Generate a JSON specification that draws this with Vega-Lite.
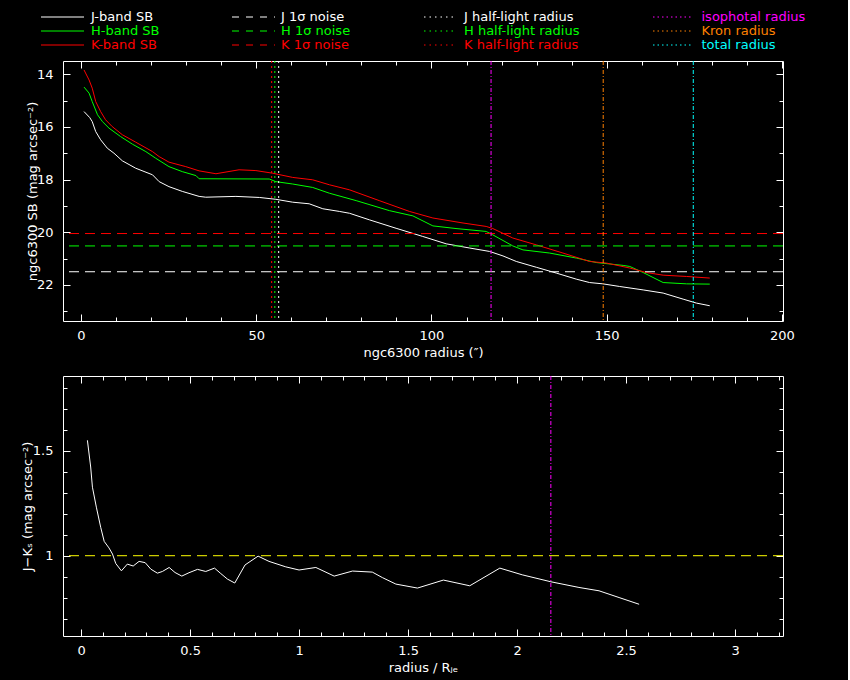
{
  "$schema": "https://vega.github.io/schema/vega-lite/v6.json",
  "background": "#000000",
  "padding": {"left": 21, "top": 10, "right": 42, "bottom": 6},
  "bounds": "flush",
  "spacing": 55,
  "datasets": {
    "sb": [
      {"r": 0.86, "sb": 15.42, "band": "J-band SB"},
      {"r": 2.5, "sb": 15.65, "band": "J-band SB"},
      {"r": 3.2, "sb": 15.8, "band": "J-band SB"},
      {"r": 4.2, "sb": 16.18, "band": "J-band SB"},
      {"r": 5.6, "sb": 16.49, "band": "J-band SB"},
      {"r": 7.5, "sb": 16.81, "band": "J-band SB"},
      {"r": 9.4, "sb": 17.0, "band": "J-band SB"},
      {"r": 11.8, "sb": 17.29, "band": "J-band SB"},
      {"r": 15.6, "sb": 17.57, "band": "J-band SB"},
      {"r": 20.4, "sb": 17.82, "band": "J-band SB"},
      {"r": 22.3, "sb": 18.08, "band": "J-band SB"},
      {"r": 25.1, "sb": 18.27, "band": "J-band SB"},
      {"r": 28.9, "sb": 18.45, "band": "J-band SB"},
      {"r": 33.7, "sb": 18.64, "band": "J-band SB"},
      {"r": 35.6, "sb": 18.67, "band": "J-band SB"},
      {"r": 44.2, "sb": 18.64, "band": "J-band SB"},
      {"r": 50.9, "sb": 18.68, "band": "J-band SB"},
      {"r": 55.6, "sb": 18.75, "band": "J-band SB"},
      {"r": 60.4, "sb": 18.86, "band": "J-band SB"},
      {"r": 65.1, "sb": 18.92, "band": "J-band SB"},
      {"r": 69.0, "sb": 19.11, "band": "J-band SB"},
      {"r": 73.7, "sb": 19.21, "band": "J-band SB"},
      {"r": 76.6, "sb": 19.28, "band": "J-band SB"},
      {"r": 82.3, "sb": 19.53, "band": "J-band SB"},
      {"r": 89.9, "sb": 19.85, "band": "J-band SB"},
      {"r": 97.5, "sb": 20.16, "band": "J-band SB"},
      {"r": 104.2, "sb": 20.44, "band": "J-band SB"},
      {"r": 110.9, "sb": 20.6, "band": "J-band SB"},
      {"r": 116.6, "sb": 20.73, "band": "J-band SB"},
      {"r": 120.4, "sb": 20.9, "band": "J-band SB"},
      {"r": 124.2, "sb": 21.11, "band": "J-band SB"},
      {"r": 129.9, "sb": 21.33, "band": "J-band SB"},
      {"r": 135.6, "sb": 21.55, "band": "J-band SB"},
      {"r": 141.3, "sb": 21.78, "band": "J-band SB"},
      {"r": 145.1, "sb": 21.91, "band": "J-band SB"},
      {"r": 148.9, "sb": 21.96, "band": "J-band SB"},
      {"r": 153.7, "sb": 22.06, "band": "J-band SB"},
      {"r": 160.4, "sb": 22.19, "band": "J-band SB"},
      {"r": 166.1, "sb": 22.31, "band": "J-band SB"},
      {"r": 171.8, "sb": 22.54, "band": "J-band SB"},
      {"r": 175.6, "sb": 22.69, "band": "J-band SB"},
      {"r": 179.4, "sb": 22.79, "band": "J-band SB"},
      {"r": 0.86, "sb": 14.49, "band": "H-band SB"},
      {"r": 2.3, "sb": 14.72, "band": "H-band SB"},
      {"r": 3.2, "sb": 15.04, "band": "H-band SB"},
      {"r": 4.7, "sb": 15.54, "band": "H-band SB"},
      {"r": 6.1, "sb": 15.8, "band": "H-band SB"},
      {"r": 8.0, "sb": 16.05, "band": "H-band SB"},
      {"r": 11.3, "sb": 16.37, "band": "H-band SB"},
      {"r": 14.7, "sb": 16.66, "band": "H-band SB"},
      {"r": 18.5, "sb": 16.94, "band": "H-band SB"},
      {"r": 21.3, "sb": 17.19, "band": "H-band SB"},
      {"r": 25.1, "sb": 17.51, "band": "H-band SB"},
      {"r": 28.9, "sb": 17.7, "band": "H-band SB"},
      {"r": 32.8, "sb": 17.85, "band": "H-band SB"},
      {"r": 33.7, "sb": 17.97, "band": "H-band SB"},
      {"r": 53.7, "sb": 17.98, "band": "H-band SB"},
      {"r": 55.6, "sb": 18.08, "band": "H-band SB"},
      {"r": 60.4, "sb": 18.17, "band": "H-band SB"},
      {"r": 66.1, "sb": 18.3, "band": "H-band SB"},
      {"r": 70.9, "sb": 18.52, "band": "H-band SB"},
      {"r": 78.5, "sb": 18.8, "band": "H-band SB"},
      {"r": 88.0, "sb": 19.18, "band": "H-band SB"},
      {"r": 94.7, "sb": 19.38, "band": "H-band SB"},
      {"r": 100.4, "sb": 19.76, "band": "H-band SB"},
      {"r": 107.0, "sb": 19.86, "band": "H-band SB"},
      {"r": 115.6, "sb": 19.97, "band": "H-band SB"},
      {"r": 117.5, "sb": 20.1, "band": "H-band SB"},
      {"r": 123.2, "sb": 20.52, "band": "H-band SB"},
      {"r": 126.1, "sb": 20.67, "band": "H-band SB"},
      {"r": 133.7, "sb": 20.79, "band": "H-band SB"},
      {"r": 141.3, "sb": 20.98, "band": "H-band SB"},
      {"r": 147.0, "sb": 21.15, "band": "H-band SB"},
      {"r": 154.7, "sb": 21.26, "band": "H-band SB"},
      {"r": 156.6, "sb": 21.3, "band": "H-band SB"},
      {"r": 160.4, "sb": 21.53, "band": "H-band SB"},
      {"r": 166.1, "sb": 21.91, "band": "H-band SB"},
      {"r": 172.8, "sb": 21.96, "band": "H-band SB"},
      {"r": 179.4, "sb": 21.97, "band": "H-band SB"},
      {"r": 0.86, "sb": 13.84, "band": "K-band SB"},
      {"r": 2.3, "sb": 14.22, "band": "K-band SB"},
      {"r": 3.2, "sb": 14.53, "band": "K-band SB"},
      {"r": 4.2, "sb": 15.04, "band": "K-band SB"},
      {"r": 5.6, "sb": 15.42, "band": "K-band SB"},
      {"r": 7.0, "sb": 15.73, "band": "K-band SB"},
      {"r": 8.9, "sb": 15.99, "band": "K-band SB"},
      {"r": 11.8, "sb": 16.3, "band": "K-band SB"},
      {"r": 15.6, "sb": 16.58, "band": "K-band SB"},
      {"r": 20.4, "sb": 16.94, "band": "K-band SB"},
      {"r": 22.3, "sb": 17.13, "band": "K-band SB"},
      {"r": 25.1, "sb": 17.34, "band": "K-band SB"},
      {"r": 29.9, "sb": 17.51, "band": "K-band SB"},
      {"r": 33.7, "sb": 17.67, "band": "K-band SB"},
      {"r": 38.5, "sb": 17.78, "band": "K-band SB"},
      {"r": 45.1, "sb": 17.63, "band": "K-band SB"},
      {"r": 49.9, "sb": 17.66, "band": "K-band SB"},
      {"r": 54.7, "sb": 17.76, "band": "K-band SB"},
      {"r": 60.4, "sb": 17.92, "band": "K-band SB"},
      {"r": 66.1, "sb": 18.01, "band": "K-band SB"},
      {"r": 70.9, "sb": 18.2, "band": "K-band SB"},
      {"r": 76.6, "sb": 18.39, "band": "K-band SB"},
      {"r": 85.1, "sb": 18.8, "band": "K-band SB"},
      {"r": 93.7, "sb": 19.21, "band": "K-band SB"},
      {"r": 100.4, "sb": 19.46, "band": "K-band SB"},
      {"r": 109.0, "sb": 19.65, "band": "K-band SB"},
      {"r": 115.6, "sb": 19.78, "band": "K-band SB"},
      {"r": 117.5, "sb": 19.86, "band": "K-band SB"},
      {"r": 123.2, "sb": 20.22, "band": "K-band SB"},
      {"r": 129.9, "sb": 20.48, "band": "K-band SB"},
      {"r": 137.5, "sb": 20.79, "band": "K-band SB"},
      {"r": 145.1, "sb": 21.11, "band": "K-band SB"},
      {"r": 149.9, "sb": 21.17, "band": "K-band SB"},
      {"r": 156.6, "sb": 21.36, "band": "K-band SB"},
      {"r": 161.3, "sb": 21.53, "band": "K-band SB"},
      {"r": 166.1, "sb": 21.63, "band": "K-band SB"},
      {"r": 172.8, "sb": 21.68, "band": "K-band SB"},
      {"r": 179.4, "sb": 21.74, "band": "K-band SB"}
    ],
    "noise": [
      {"label": "J 1σ noise", "sb": 21.5},
      {"label": "H 1σ noise", "sb": 20.52},
      {"label": "K 1σ noise", "sb": 20.05}
    ],
    "halflight": [
      {"label": "J half-light radius", "r": 56.4},
      {"label": "H half-light radius", "r": 55.3},
      {"label": "K half-light radius", "r": 54.4}
    ],
    "radii": [
      {"label": "isophotal radius", "r": 117.0},
      {"label": "Kron radius", "r": 149.0},
      {"label": "total radius", "r": 174.7}
    ],
    "colour": [
      {"x": 0.029, "jk": 1.549},
      {"x": 0.044, "jk": 1.422},
      {"x": 0.052, "jk": 1.326},
      {"x": 0.07, "jk": 1.231},
      {"x": 0.09, "jk": 1.135},
      {"x": 0.106, "jk": 1.068},
      {"x": 0.128, "jk": 1.037},
      {"x": 0.144, "jk": 1.008},
      {"x": 0.159, "jk": 0.963},
      {"x": 0.185, "jk": 0.928},
      {"x": 0.212, "jk": 0.96},
      {"x": 0.239, "jk": 0.951},
      {"x": 0.266, "jk": 0.973},
      {"x": 0.294, "jk": 0.967},
      {"x": 0.32, "jk": 0.936},
      {"x": 0.35, "jk": 0.917},
      {"x": 0.373, "jk": 0.925},
      {"x": 0.404, "jk": 0.944},
      {"x": 0.431, "jk": 0.92},
      {"x": 0.462, "jk": 0.903},
      {"x": 0.495, "jk": 0.919},
      {"x": 0.534, "jk": 0.935},
      {"x": 0.572, "jk": 0.925},
      {"x": 0.612, "jk": 0.941},
      {"x": 0.641, "jk": 0.915},
      {"x": 0.671, "jk": 0.889},
      {"x": 0.705, "jk": 0.87},
      {"x": 0.752, "jk": 0.956},
      {"x": 0.812, "jk": 0.998},
      {"x": 0.862, "jk": 0.973},
      {"x": 0.939, "jk": 0.947},
      {"x": 1.0, "jk": 0.932},
      {"x": 1.077, "jk": 0.944},
      {"x": 1.161, "jk": 0.903},
      {"x": 1.245, "jk": 0.927},
      {"x": 1.336, "jk": 0.922},
      {"x": 1.382, "jk": 0.896},
      {"x": 1.444, "jk": 0.865},
      {"x": 1.543, "jk": 0.846},
      {"x": 1.662, "jk": 0.884},
      {"x": 1.783, "jk": 0.857},
      {"x": 1.921, "jk": 0.941},
      {"x": 2.024, "jk": 0.909},
      {"x": 2.155, "jk": 0.876},
      {"x": 2.284, "jk": 0.849},
      {"x": 2.376, "jk": 0.833},
      {"x": 2.468, "jk": 0.801},
      {"x": 2.56, "jk": 0.769}
    ],
    "unity": [{"jk": 1.0}],
    "isoscaled": [{"x": 2.155}]
  },
  "vconcat": [
    {
      "width": 720,
      "height": 260,
      "layer": [
        {
          "data": {"name": "sb"},
          "mark": {"type": "line", "strokeWidth": 1},
          "encoding": {
            "x": {
              "field": "r",
              "type": "quantitative",
              "scale": {"domain": [-5.14, 200.3], "nice": false, "zero": false},
              "axis": {
                "orient": "bottom",
                "values": [0, 10, 20, 30, 40, 50, 60, 70, 80, 90, 100, 110, 120, 130, 140, 150, 160, 170, 180, 190, 200],
                "labelExpr": "datum.value % 50 === 0 ? datum.label : ''",
                "tickSize": {"condition": {"test": "datum.value % 50 === 0", "value": -7}, "value": -4},
                "labelPadding": 15,
                "title": "ngc6300 radius (″)",
                "titleY": 31,
                "titleBaseline": "middle"
              }
            },
            "y": {
              "field": "sb",
              "type": "quantitative",
              "scale": {"domain": [13.5, 23.37], "reverse": true, "nice": false, "zero": false},
              "axis": {
                "orient": "left",
                "values": [14, 15, 16, 17, 18, 19, 20, 21, 22, 23],
                "labelExpr": "datum.value % 2 === 0 ? datum.label : ''",
                "tickSize": {"condition": {"test": "datum.value % 2 === 0", "value": -7}, "value": -4},
                "labelPadding": 17,
                "title": "ngc6300 SB (mag arcsec⁻²)",
                "titleX": -31,
                "titleBaseline": "middle"
              }
            },
            "color": {
              "field": "band",
              "type": "nominal",
              "scale": {"domain": ["J-band SB", "H-band SB", "K-band SB"], "range": ["#ffffff", "#00ff00", "#ff0000"]},
              "legend": {
                "legendX": -22.5,
                "legendY": -50.75,
                "symbolSize": 1849,
                "labelOffset": 6.5,
                "encode": {
                  "labels": {"update": {"fill": {"signal": "slice(datum.value, 0, 1) === 'J' ? '#ffffff' : slice(datum.value, 0, 1) === 'H' ? '#00ff00' : '#ff0000'"}}}
                }
              }
            }
          }
        },
        {
          "data": {"name": "noise"},
          "mark": {"type": "rule", "strokeWidth": 1, "strokeDash": [10, 6]},
          "encoding": {
            "y": {
              "field": "sb",
              "type": "quantitative",
              "scale": {"domain": [13.5, 23.37], "reverse": true, "nice": false, "zero": false},
              "axis": {
                "orient": "right",
                "values": [14, 15, 16, 17, 18, 19, 20, 21, 22, 23],
                "labels": false,
                "tickSize": {"condition": {"test": "datum.value % 2 === 0", "value": -7}, "value": -4},
                "title": null
              }
            },
            "color": {
              "field": "label",
              "type": "nominal",
              "scale": {"domain": ["J 1σ noise", "H 1σ noise", "K 1σ noise"], "range": ["#ffffff", "#00ff00", "#ff0000"]},
              "legend": {
                "legendX": 168.5,
                "legendY": -50.75,
                "symbolSize": 1849,
                "symbolDash": [7, 7],
                "labelOffset": 5.5,
                "encode": {
                  "symbols": {"update": {"strokeDash": {"value": [7, 7]}}},
                  "labels": {"update": {"fill": {"signal": "slice(datum.value, 0, 1) === 'J' ? '#ffffff' : slice(datum.value, 0, 1) === 'H' ? '#00ff00' : '#ff0000'"}}}
                }
              }
            }
          }
        },
        {
          "data": {"name": "halflight"},
          "mark": {"type": "rule", "strokeWidth": 1, "strokeDash": [2, 3]},
          "encoding": {
            "x": {
              "field": "r",
              "type": "quantitative",
              "scale": {"domain": [-5.14, 200.3], "nice": false, "zero": false},
              "axis": {
                "orient": "top",
                "values": [0, 10, 20, 30, 40, 50, 60, 70, 80, 90, 100, 110, 120, 130, 140, 150, 160, 170, 180, 190, 200],
                "labels": false,
                "tickSize": {"condition": {"test": "datum.value % 50 === 0", "value": -7}, "value": -4},
                "title": null
              }
            },
            "color": {
              "field": "label",
              "type": "nominal",
              "scale": {"domain": ["J half-light radius", "H half-light radius", "K half-light radius"], "range": ["#ffffff", "#00ff00", "#ff0000"]},
              "legend": {
                "legendX": 360.5,
                "legendY": -50.75,
                "symbolSize": 1089,
                "symbolDash": [1.5, 4],
                "labelOffset": 6.5,
                "encode": {
                  "symbols": {"update": {"strokeDash": {"value": [1.5, 4]}}},
                  "labels": {"update": {"fill": {"signal": "slice(datum.value, 0, 1) === 'J' ? '#ffffff' : slice(datum.value, 0, 1) === 'H' ? '#00ff00' : '#ff0000'"}}}
                }
              }
            }
          }
        },
        {
          "data": {"name": "radii"},
          "mark": {"type": "rule", "strokeWidth": 1, "strokeDash": [4, 2, 1, 2]},
          "encoding": {
            "x": {
              "field": "r",
              "type": "quantitative",
              "scale": {"domain": [-5.14, 200.3], "nice": false, "zero": false},
              "axis": null
            },
            "color": {
              "field": "label",
              "type": "nominal",
              "scale": {"domain": ["isophotal radius", "Kron radius", "total radius"], "range": ["#ff00ff", "#ff8000", "#00ffff"]},
              "legend": {
                "legendX": 589.5,
                "legendY": -50.75,
                "symbolSize": 1600,
                "symbolDash": [1.5, 3],
                "labelOffset": 8,
                "encode": {
                  "symbols": {"update": {"strokeDash": {"value": [1.5, 3]}}},
                  "labels": {"update": {"fill": {"signal": "datum.value === 'isophotal radius' ? '#ff00ff' : datum.value === 'Kron radius' ? '#ff8000' : '#00ffff'"}}}
                }
              }
            }
          }
        }
      ],
      "resolve": {
        "scale": {"color": "independent"},
        "axis": {"x": "independent", "y": "independent"}
      }
    },
    {
      "width": 720,
      "height": 260,
      "layer": [
        {
          "data": {"name": "colour"},
          "mark": {"type": "line", "strokeWidth": 1, "color": "#ffffff"},
          "encoding": {
            "x": {
              "field": "x",
              "type": "quantitative",
              "scale": {"domain": [-0.083, 3.22], "nice": false, "zero": false},
              "axis": {
                "orient": "bottom",
                "values": [0, 0.1, 0.2, 0.3, 0.4, 0.5, 0.6, 0.7, 0.8, 0.9, 1, 1.1, 1.2, 1.3, 1.4, 1.5, 1.6, 1.7, 1.8, 1.9, 2, 2.1, 2.2, 2.3, 2.4, 2.5, 2.6, 2.7, 2.8, 2.9, 3, 3.1, 3.2],
                "format": "~g",
                "labelExpr": "abs(datum.value * 2 - round(datum.value * 2)) < 0.001 ? datum.label : ''",
                "tickSize": {"condition": {"test": "abs(datum.value * 2 - round(datum.value * 2)) < 0.001", "value": -7}, "value": -4},
                "labelPadding": 15,
                "title": "radius / Rⱼₑ",
                "titleY": 31,
                "titleBaseline": "middle"
              }
            },
            "y": {
              "field": "jk",
              "type": "quantitative",
              "scale": {"domain": [0.618, 1.855], "nice": false, "zero": false},
              "axis": {
                "orient": "left",
                "values": [0.7, 0.8, 0.9, 1, 1.1, 1.2, 1.3, 1.4, 1.5, 1.6, 1.7, 1.8],
                "format": "~g",
                "labelExpr": "abs(datum.value * 2 - round(datum.value * 2)) < 0.001 ? datum.label : ''",
                "tickSize": {"condition": {"test": "abs(datum.value * 2 - round(datum.value * 2)) < 0.001", "value": -7}, "value": -4},
                "labelPadding": 17,
                "title": "J−Kₛ (mag arcsec⁻²)",
                "titleX": -36,
                "titleBaseline": "middle"
              }
            }
          }
        },
        {
          "data": {"name": "unity"},
          "mark": {"type": "rule", "strokeWidth": 1, "strokeDash": [10, 6], "color": "#ffff00"},
          "encoding": {
            "y": {
              "field": "jk",
              "type": "quantitative",
              "scale": {"domain": [0.618, 1.855], "nice": false, "zero": false},
              "axis": {
                "orient": "right",
                "values": [0.7, 0.8, 0.9, 1, 1.1, 1.2, 1.3, 1.4, 1.5, 1.6, 1.7, 1.8],
                "labels": false,
                "tickSize": {"condition": {"test": "abs(datum.value * 2 - round(datum.value * 2)) < 0.001", "value": -7}, "value": -4},
                "title": null
              }
            }
          }
        },
        {
          "data": {"name": "isoscaled"},
          "mark": {"type": "rule", "strokeWidth": 1, "strokeDash": [4, 2, 1, 2], "color": "#ff00ff"},
          "encoding": {
            "x": {
              "field": "x",
              "type": "quantitative",
              "scale": {"domain": [-0.083, 3.22], "nice": false, "zero": false},
              "axis": {
                "orient": "top",
                "values": [0, 0.1, 0.2, 0.3, 0.4, 0.5, 0.6, 0.7, 0.8, 0.9, 1, 1.1, 1.2, 1.3, 1.4, 1.5, 1.6, 1.7, 1.8, 1.9, 2, 2.1, 2.2, 2.3, 2.4, 2.5, 2.6, 2.7, 2.8, 2.9, 3, 3.1, 3.2],
                "labels": false,
                "tickSize": {"condition": {"test": "abs(datum.value * 2 - round(datum.value * 2)) < 0.001", "value": -7}, "value": -4},
                "title": null
              }
            }
          }
        }
      ],
      "resolve": {"axis": {"x": "independent", "y": "independent"}}
    }
  ],
  "config": {
    "view": {"stroke": null},
    "axis": {
      "grid": false,
      "domainColor": "#ffffff",
      "domainWidth": 1,
      "tickColor": "#ffffff",
      "tickWidth": 1,
      "labelColor": "#ffffff",
      "labelFont": "DejaVu Sans",
      "labelFontSize": 13,
      "labelFlush": false,
      "labelOverlap": false,
      "labelBound": false,
      "titleColor": "#ffffff",
      "titleFont": "DejaVu Sans",
      "titleFontSize": 13,
      "titleFontWeight": "normal"
    },
    "legend": {
      "orient": "none",
      "title": null,
      "padding": 0,
      "symbolType": "stroke",
      "symbolStrokeWidth": 1,
      "rowPadding": 0,
      "clipHeight": 13.5,
      "labelFont": "DejaVu Sans",
      "labelFontSize": 13,
      "labelColor": "#ffffff",
      "labelLimit": 300
    }
  }
}
